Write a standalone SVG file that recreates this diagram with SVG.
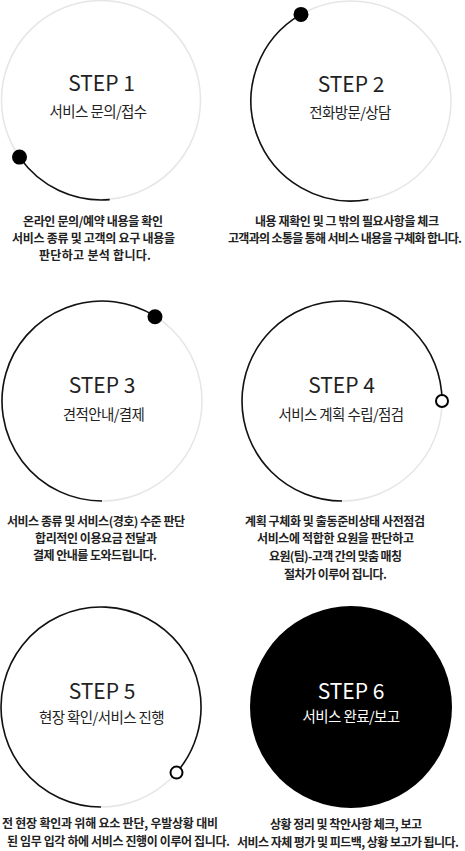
<svg xmlns="http://www.w3.org/2000/svg" width="465" height="851" viewBox="0 0 465 851">
<style>
.ring{fill:none;stroke:#e6e6e6;stroke-width:1.5}
.arc{fill:none;stroke:#111;stroke-width:1.6}
.dot{fill:#000}
.odot{fill:#fff;stroke:#000;stroke-width:2}
.step{font-family:"Noto Sans CJK KR","Noto Sans",sans-serif;font-size:21px;fill:#222;text-anchor:middle}
.sub{font-family:"Noto Sans CJK KR",sans-serif;font-size:14.5px;fill:#222;text-anchor:middle;letter-spacing:-0.6px}
.desc{font-family:"Noto Sans CJK KR",sans-serif;font-size:12px;font-weight:700;fill:#222;text-anchor:middle}
.w{fill:#fff}
</style>
<rect width="465" height="851" fill="#fff"/>
<g id="step1">
<circle class="ring" cx="101" cy="100" r="99.5"/>
<path class="arc" d="M109.7,199.6 A99.5,99.5 0 0 1 19.5,157.1"/>
<circle class="dot" cx="19.5" cy="157.1" r="7.5"/>
<text class="step" x="101.5" y="91">STEP 1</text>
<text class="sub" x="98" y="117">서비스 문의/접수</text>
<text class="desc" x="93" y="226" textLength="140" lengthAdjust="spacing">온라인 문의/예약 내용을 확인</text>
<text class="desc" x="93.5" y="243" textLength="163" lengthAdjust="spacing">서비스 종류 및 고객의 요구 내용을</text>
<text class="desc" x="95" y="260" textLength="112" lengthAdjust="spacing">판단하고 분석 합니다.</text>
</g>
<g id="step2">
<circle class="ring" cx="351" cy="101" r="100"/>
<path class="arc" d="M368.4,199.5 A100,100 0 0 1 301,14.4"/>
<circle class="dot" cx="301" cy="14.4" r="7.5"/>
<text class="step" x="351" y="92">STEP 2</text>
<text class="sub" x="350" y="118">전화방문/상담</text>
<text class="desc" x="347" y="226" textLength="184" lengthAdjust="spacing">내용 재확인 및 그 밖의 필요사항을 체크</text>
<text class="desc" x="345" y="243" textLength="234" lengthAdjust="spacing">고객과의 소통을 통해 서비스 내용을 구체화 합니다.</text>
</g>
<g id="step3">
<circle class="ring" cx="102" cy="401" r="100"/>
<path class="arc" d="M102,501 A100,100 0 1 1 155,316.2"/>
<circle class="dot" cx="155" cy="316.8" r="7.5"/>
<text class="step" x="102" y="393">STEP 3</text>
<text class="sub" x="103.5" y="420">견적안내/결제</text>
<text class="desc" x="96" y="526" textLength="178" lengthAdjust="spacing">서비스 종류 및 서비스(경호) 수준 판단</text>
<text class="desc" x="96" y="543" textLength="122" lengthAdjust="spacing">합리적인 이용요금 전달과</text>
<text class="desc" x="95" y="560" textLength="124" lengthAdjust="spacing">결제 안내를 도와드립니다.</text>
</g>
<g id="step4">
<circle class="ring" cx="342" cy="401" r="100"/>
<path class="arc" d="M342,501 A100,100 0 1 1 442,401"/>
<circle class="odot" cx="442" cy="401" r="6"/>
<text class="step" x="341.5" y="393">STEP 4</text>
<text class="sub" x="341" y="420">서비스 계획 수립/점검</text>
<text class="desc" x="335" y="526" textLength="180" lengthAdjust="spacing">계획 구체화 및 출동준비상태 사전점검</text>
<text class="desc" x="335.5" y="543" textLength="157" lengthAdjust="spacing">서비스에 적합한 요원을 판단하고</text>
<text class="desc" x="335.5" y="561" textLength="133" lengthAdjust="spacing">요원(팀)-고객 간의 맞춤 매칭</text>
<text class="desc" x="335.5" y="579" textLength="103" lengthAdjust="spacing">절차가 이루어 집니다.</text>
</g>
<g id="step5">
<circle class="ring" cx="101" cy="707" r="100"/>
<path class="arc" d="M101,807 A100,100 0 1 1 176.5,772.6"/>
<circle class="odot" cx="176.5" cy="772.6" r="6"/>
<text class="step" x="102" y="699">STEP 5</text>
<text class="sub" x="101.5" y="723">현장 확인/서비스 진행</text>
<text class="desc" x="110" y="828" textLength="216" lengthAdjust="spacing">전 현장 확인과 위해 요소 판단, 우발상황 대비</text>
<text class="desc" x="118.5" y="846" textLength="223" lengthAdjust="spacing">된 임무 입각 하에 서비스 진행이 이루어 집니다.</text>
</g>
<g id="step6">
<circle cx="351" cy="707" r="101" fill="#000"/>
<text class="step w" x="351" y="699">STEP 6</text>
<text class="sub w" x="351" y="722">서비스 완료/보고</text>
<text class="desc" x="346" y="829" textLength="152" lengthAdjust="spacing">상황 정리 및 착안사항 체크, 보고</text>
<text class="desc" x="348" y="847" textLength="222" lengthAdjust="spacing">서비스 자체 평가 및 피드백, 상황 보고가 됩니다.</text>
</g>
<g id="connectors"></g>
</svg>
